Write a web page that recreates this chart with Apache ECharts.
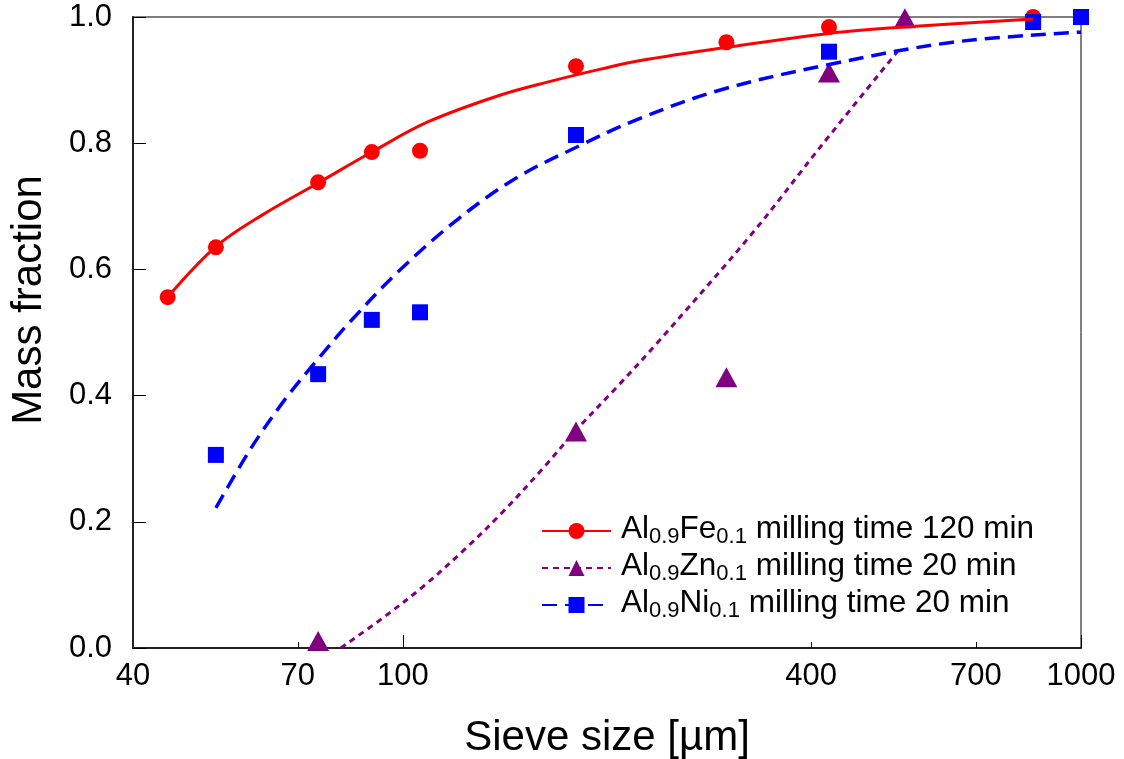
<!DOCTYPE html>
<html><head><meta charset="utf-8">
<script src="https://cdn.jsdelivr.net/npm/echarts@6/dist/echarts.min.js"></script>
<style>html,body{margin:0;padding:0;background:#fff}#c{width:1124px;height:759px}</style>
</head><body><div id="c"></div>
<script>
const FONT = "'Liberation Sans', Arial, Helvetica, sans-serif";

// axis
const xMin = 40, xMax = 1000;
const xTickLabels = [40, 70, 100, 400, 700, 1000];
const xMajorTicks = [100, 1000];
const xMinorTicks = [70, 400, 700];
const yMin = 0, yMax = 1, yStep = 0.2;
const xTitle = 'Sieve size [\u00b5m]';
const yTitle = 'Mass fraction';

// series names and legend label parts (main, sub, main, sub, main)
const seriesNames = ['Al0.9Fe0.1 milling time 120 min', 'Al0.9Zn0.1 milling time 20 min', 'Al0.9Ni0.1 milling time 20 min'];
const labelParts = [
  ['Al', '0.9', 'Fe', '0.1', ' milling time 120 min'],
  ['Al', '0.9', 'Zn', '0.1', ' milling time 20 min'],
  ['Al', '0.9', 'Ni', '0.1', ' milling time 20 min']
];

// measured points
const feX = [45, 53, 75, 90, 106, 180, 300, 425, 850];
const feY = [0.556, 0.635, 0.738, 0.786, 0.788, 0.922, 0.960, 0.984, 1.0];
const znX = [75, 180, 300, 425, 550];
const znY = [0.011, 0.343, 0.429, 0.912, 0.998];
const niX = [53, 75, 90, 106, 180, 425, 850, 1000];
const niY = [0.306, 0.434, 0.520, 0.532, 0.813, 0.945, 0.992, 1.0];

// fitted curves
const feFitX = [45, 53, 62, 75, 90, 109, 139, 165, 195, 224, 300, 425, 548, 850];
const feFitY = [0.556, 0.636, 0.686, 0.737, 0.786, 0.834, 0.876, 0.898, 0.917, 0.931, 0.952, 0.974, 0.984, 0.997];
const znFitX = [81, 93.5, 107, 123, 140.5, 161, 180, 207, 237, 328, 412, 536];
const znFitY = [0.0, 0.048, 0.097, 0.155, 0.216, 0.285, 0.345, 0.414, 0.483, 0.658, 0.793, 0.945];
const niFitX = [53, 59.5, 66.6, 74.7, 83.6, 99, 121, 147, 183, 221, 293, 422, 647, 1000];
const niFitY = [0.222, 0.314, 0.390, 0.456, 0.517, 0.599, 0.681, 0.745, 0.797, 0.837, 0.884, 0.924, 0.960, 0.976];

const RED = '#ff0000', PURPLE = '#800080', BLUE = '#0000ff';
const zip = (a, b) => a.map((v, i) => [v, b[i]]);

const chart = echarts.init(document.getElementById('c'), null, {renderer: 'canvas'});

const legendRich = {
  m: {fontFamily: FONT, fontSize: 31.5, color: '#000', lineHeight: 34, verticalAlign: 'bottom', padding: [0, 0, 3, 0]},
  s: {fontFamily: FONT, fontSize: 22, color: '#000', lineHeight: 22, verticalAlign: 'bottom'}
};

const option = {
  backgroundColor: '#fff',
  animation: false,
  grid: {left: 133, right: 43, top: 17, bottom: 111, show: true, borderColor: '#000', borderWidth: 1, containLabel: false, outerBoundsMode: 'none'},
  xAxis: [{
    type: 'log', logBase: 10, min: xMin, max: xMax,
    axisLine: {show: true, onZero: false, lineStyle: {color: '#222', width: 2}},
    axisTick: {show: true, inside: true, length: 13, customValues: xMajorTicks, lineStyle: {color: '#000', width: 1}},
    minorTick: {show: false},
    splitLine: {show: false},
    axisLabel: {customValues: xTickLabels, fontFamily: FONT, fontSize: 31, color: '#000', margin: 13, formatter: v => String(Math.round(v))}
  }, {
    type: 'log', logBase: 10, min: xMin, max: xMax, position: 'bottom',
    axisLine: {show: false},
    axisTick: {show: true, inside: true, length: 6, customValues: xMinorTicks, lineStyle: {color: '#000', width: 1}},
    splitLine: {show: false},
    axisLabel: {show: false}
  }],
  yAxis: {
    type: 'value', min: yMin, max: yMax, interval: yStep,
    axisLine: {show: true, onZero: false, lineStyle: {color: '#222', width: 2}},
    axisTick: {show: true, inside: true, length: 13, lineStyle: {color: '#000', width: 1}},
    splitLine: {show: false},
    axisLabel: {fontFamily: FONT, fontSize: 31, color: '#000', margin: 21, formatter: v => v.toFixed(1)}
  },
  legend: {
    left: 541, top: 513, orient: 'vertical', padding: 0, itemGap: 2,
    itemWidth: 69, itemHeight: 20,
    data: seriesNames,
    selectedMode: false,
    textStyle: {fontFamily: FONT, fontSize: 31.5, color: '#000', padding: [0, 0, 0, 5], rich: legendRich},
    formatter: name => {
      const p = labelParts[seriesNames.indexOf(name)];
      return '{m|' + p[0] + '}{s|' + p[1] + '}{m|' + p[2] + '}{s|' + p[3] + '}{m|' + p[4] + '}';
    }
  },
  graphic: [
    {type: 'text', x: 29, y: 300, rotation: Math.PI / 2, style: {text: yTitle, font: '42px ' + FONT, fill: '#000', align: 'center', verticalAlign: 'middle'}},
    {type: 'text', x: 607, y: 738, style: {text: xTitle, font: '42px ' + FONT, fill: '#000', align: 'center', verticalAlign: 'middle'}}
  ],
  series: [
    {name: seriesNames[0], type: 'line', data: zip(feFitX, feFitY), smooth: 0.35, showSymbol: false, symbol: 'circle', symbolSize: 16,
     itemStyle: {color: RED}, lineStyle: {color: RED, width: 3}, z: 4},
    {name: seriesNames[0], type: 'scatter', data: zip(feX, feY), symbol: 'circle', symbolSize: 16, itemStyle: {color: RED, opacity: 1}, z: 2},
    {name: seriesNames[1], type: 'line', data: zip(znFitX, znFitY), smooth: 0.35, showSymbol: false, symbol: 'triangle', symbolSize: 20,
     itemStyle: {color: PURPLE}, lineStyle: {color: PURPLE, width: 3, type: [6, 5]}, z: 3},
    {name: seriesNames[1], type: 'scatter', data: zip(znX, znY), symbol: 'triangle', symbolSize: [22, 20], itemStyle: {color: PURPLE, opacity: 1}, z: 2},
    {name: seriesNames[2], type: 'line', data: zip(niFitX, niFitY), smooth: 0.35, showSymbol: false, symbol: 'rect', symbolSize: 16,
     itemStyle: {color: BLUE}, lineStyle: {color: BLUE, width: 3.5, type: [15, 8]}, z: 3},
    {name: seriesNames[2], type: 'scatter', data: zip(niX, niY), symbol: 'rect', symbolSize: 16, itemStyle: {color: BLUE, opacity: 1}, z: 2}
  ]
};
chart.setOption(option);
</script>
</body></html>
